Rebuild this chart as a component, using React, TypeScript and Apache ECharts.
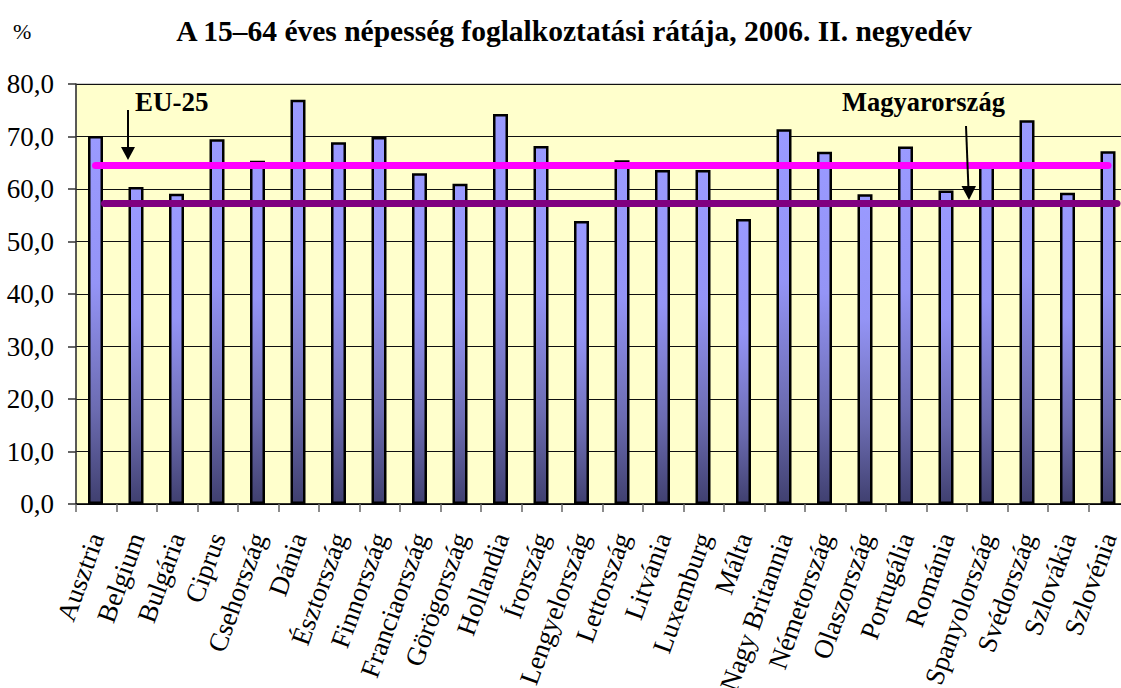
import React, { useEffect, useRef } from "react";
import * as echarts from "echarts";

const countries: string[] = [
  "Ausztria", "Belgium", "Bulgária", "Ciprus", "Csehország", "Dánia", "Észtország",
  "Finnország", "Franciaország", "Görögország", "Hollandia", "Írország", "Lengyelország",
  "Lettország", "Litvánia", "Luxemburg", "Málta", "Nagy Britannia", "Németország",
  "Olaszország", "Portugália", "Románia", "Spanyolország", "Svédország", "Szlovákia", "Szlovénia",
];
const rates: number[] = [
  70.1, 60.4, 59.1, 69.5, 65.4, 77.0, 68.9,
  69.9, 63.0, 61.0, 74.3, 68.2, 53.9,
  65.5, 63.6, 63.6, 54.3, 71.4, 67.1,
  59.0, 68.1, 59.7, 64.5, 73.1, 59.3, 67.2,
];
const eu25 = 64.6;
const hungary = 57.3;
const yTicks = { min: 0, max: 80, interval: 10 };

const SERIF = "Liberation Serif";

export default function App() {
  const ref = useRef<HTMLDivElement>(null);
  useEffect(() => {
    if (!ref.current) return;
    const chart = echarts.init(ref.current, null, { renderer: "svg" });
    const refLine = (value: number, color: string) => ({
      silent: true,
      symbol: ["none", "none"],
      label: { show: false },
      lineStyle: { color, width: 7, type: "solid", cap: "round" },
      data: [[{ coord: [countries[0], value] }, { coord: [countries[countries.length - 1], value] }]],
    });
    chart.setOption({
      animation: false,
      backgroundColor: "#ffffff",
      textStyle: { fontFamily: SERIF },
      grid: {
        left: 76,
        top: 84,
        width: 1053,
        bottom: 184,
        containLabel: false,
        outerBoundsMode: "none",
        show: true,
        backgroundColor: "#ffffcc",
        borderColor: "#999999",
        borderWidth: 1,
      },
      xAxis: {
        type: "category",
        data: countries,
        boundaryGap: true,
        axisLine: { lineStyle: { color: "#000", width: 1.5 } },
        axisTick: { show: true, length: 8, interval: 0, lineStyle: { color: "#666", width: 1.5 } },
        axisLabel: {
          interval: 0,
          rotate: 70,
          margin: 30,
          fontSize: 27,
          color: "#000",
          fontFamily: SERIF,
        },
      },
      yAxis: {
        type: "value",
        min: yTicks.min,
        max: yTicks.max,
        interval: yTicks.interval,
        axisLine: { show: true, lineStyle: { color: "#333", width: 1.5 } },
        axisTick: { show: true, length: 8, lineStyle: { color: "#333", width: 1.5 } },
        axisLabel: {
          fontSize: 27,
          color: "#000",
          margin: 22,
          fontFamily: SERIF,
          formatter: (v: number) => v.toFixed(1).replace(".", ","),
        },
        splitLine: { show: true, lineStyle: { color: "#111", width: 1 } },
      },
      series: [
        {
          type: "bar",
          data: rates,
          barWidth: 15,
          itemStyle: {
            borderColor: "#000",
            borderWidth: 2.5,
            color: new echarts.graphic.LinearGradient(0, 0, 0, 1, [
              { offset: 0, color: "#9a9aff" },
              { offset: 0.4, color: "#9494f6" },
              { offset: 0.75, color: "#6b6bb0" },
              { offset: 1, color: "#404070" },
            ]),
          },
          markLine: refLine(eu25, "#ff00ff"),
          z: 2,
        },
        {
          type: "bar",
          data: [],
          markLine: refLine(hungary, "#800080"),
        },
      ],
      graphic: [
        {
          type: "text",
          left: 13,
          top: 20,
          style: { text: "%", font: `22px ${SERIF}`, fill: "#000" },
        },
        {
          type: "text",
          x: 574,
          y: 31,
          style: {
            text: "A 15–64 éves népesség foglalkoztatási rátája, 2006. II. negyedév",
            font: `bold 29.5px ${SERIF}`,
            fill: "#000",
            align: "center",
            verticalAlign: "middle",
          },
        },
        {
          type: "text",
          x: 135,
          y: 102,
          z: 100,
          style: { text: "EU-25", font: `bold 27px ${SERIF}`, fill: "#000", verticalAlign: "middle" },
        },
        {
          type: "line",
          z: 100,
          shape: { x1: 128, y1: 110, x2: 128, y2: 150 },
          style: { stroke: "#000", lineWidth: 2 },
        },
        {
          type: "polygon",
          z: 100,
          shape: { points: [[121, 147], [135, 147], [128, 160]] },
          style: { fill: "#000" },
        },
        {
          type: "text",
          x: 842,
          y: 102,
          z: 100,
          style: { text: "Magyarország", font: `bold 26.5px ${SERIF}`, fill: "#000", verticalAlign: "middle" },
        },
        {
          type: "line",
          z: 100,
          shape: { x1: 966, y1: 126, x2: 968.5, y2: 190 },
          style: { stroke: "#000", lineWidth: 2 },
        },
        {
          type: "polygon",
          z: 100,
          shape: { points: [[961.5, 186], [976, 186], [969, 200]] },
          style: { fill: "#000" },
        },
      ],
    });
    return () => chart.dispose();
  }, []);
  return (
    <div
      ref={ref}
      style={{ position: "absolute", left: 0, top: 0, width: 1121, height: 688, overflow: "hidden" }}
    />
  );
}
